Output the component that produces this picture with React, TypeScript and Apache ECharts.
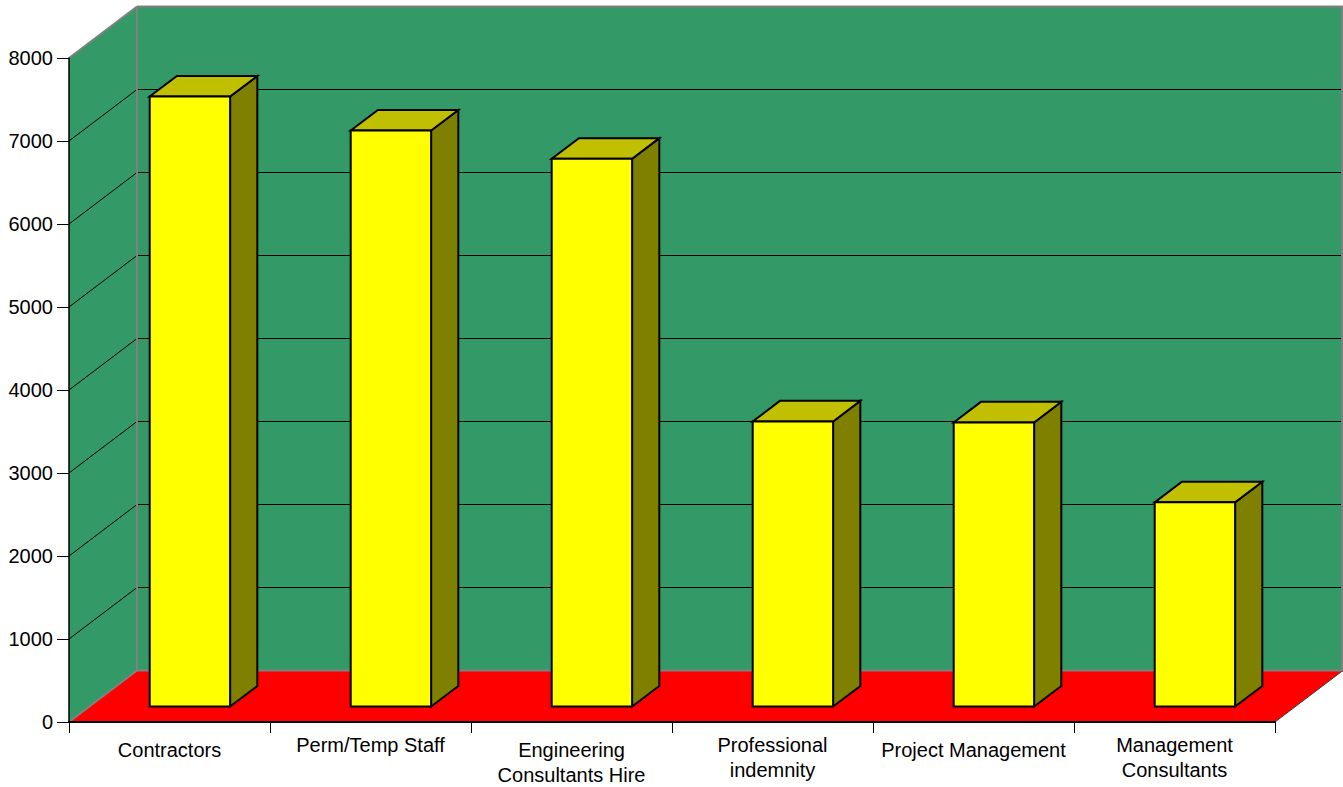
import React, { useEffect, useRef } from "react";
import * as echarts from "echarts";

const categories = [
  "Contractors",
  "Perm/Temp Staff",
  "Engineering\nConsultants Hire",
  "Professional\nindemnity",
  "Project Management",
  "Management\nConsultants",
];
const values = [7350, 6940, 6600, 3435, 3423, 2460];
const yTicks = [0, 1000, 2000, 3000, 4000, 5000, 6000, 7000, 8000];

const DX = 68;
const DY = -51.5;
const BAR_OFFSET = 0.3;
const BAR_DEPTH = 0.4;
const BAR_WIDTH = 0.4;
const FONT = "'Liberation Sans', Arial, sans-serif";

export default function App() {
  const ref = useRef<HTMLDivElement>(null);
  useEffect(() => {
    document.body.style.margin = "0";
    const chart = echarts.init(ref.current!, null, { renderer: "svg" });
    const yMin = yTicks[0];
    const yMax = yTicks[yTicks.length - 1];
    const inner = yTicks.filter((t) => t > yMin && t < yMax);

    const frameRender = (params: any, api: any) => {
      const cs = params.coordSys;
      const x0 = cs.x, y0 = cs.y, x1 = cs.x + cs.width, y1 = cs.y + cs.height;
      const gray = "#808080";
      const children: any[] = [];
      children.push({
        type: "polygon",
        shape: { points: [[x0 + DX, y0 + DY], [x1 + DX, y0 + DY], [x1 + DX, y1 + DY], [x0 + DX, y1 + DY]] },
        style: { fill: "#339966" },
      });
      children.push({
        type: "polygon",
        shape: { points: [[x0, y0], [x0 + DX, y0 + DY], [x0 + DX, y1 + DY], [x0, y1]] },
        style: { fill: "#339966" },
      });
      children.push({
        type: "polygon",
        shape: { points: [[x0, y1], [x0 + DX, y1 + DY], [x1 + DX, y1 + DY], [x1, y1]] },
        style: { fill: "#FF0000" },
      });
      inner.forEach((t) => {
        const yv = api.coord([0, t])[1];
        children.push({
          type: "line",
          shape: { x1: x0, y1: yv, x2: x0 + DX, y2: yv + DY },
          style: { stroke: "#000", lineWidth: 1 },
        });
        children.push({
          type: "line",
          shape: { x1: x0 + DX, y1: yv + DY, x2: x1 + DX, y2: yv + DY },
          style: { stroke: "#000", lineWidth: 1 },
        });
      });
      const grayLines = [
        [x0, y0, x0 + DX, y0 + DY],
        [x0 + DX, y0 + DY, x1 + DX, y0 + DY],
        [x0 + DX, y0 + DY, x0 + DX, y1 + DY],
        [x1 + DX - 1, y0 + DY, x1 + DX - 1, y1 + DY],
        [x0 + DX, y1 + DY, x1 + DX, y1 + DY],
        [x0, y1, x0 + DX, y1 + DY],
      ];
      grayLines.forEach((l) => {
        children.push({
          type: "line",
          shape: { x1: l[0], y1: l[1], x2: l[2], y2: l[3] },
          style: { stroke: gray, lineWidth: 2 },
        });
      });
      children.push({
        type: "line",
        shape: { x1: x1, y1: y1, x2: x1 + DX, y2: y1 + DY },
        style: { stroke: "#404040", lineWidth: 1 },
      });
      return { type: "group", children };
    };

    const barRender = (params: any, api: any) => {
      const i = api.value(0);
      const v = api.value(1);
      const base = api.coord([i, 0]);
      const top = api.coord([i, v]);
      const band = api.size([1, 0])[0];
      const w = band * BAR_WIDTH;
      const ox = DX * BAR_OFFSET, oy = DY * BAR_OFFSET;
      const bx = DX * BAR_DEPTH, by = DY * BAR_DEPTH;
      const L = base[0] - w / 2 + ox;
      const R = L + w;
      const T = top[1] + oy;
      const B = base[1] + oy;
      const stroke = { stroke: "#000", lineWidth: 2, lineJoin: "miter" };
      return {
        type: "group",
        children: [
          {
            type: "polygon",
            shape: { points: [[R, T], [R + bx, T + by], [R + bx, B + by], [R, B]] },
            style: { fill: "#808000", ...stroke },
          },
          {
            type: "polygon",
            shape: { points: [[L, T], [L + bx, T + by], [R + bx, T + by], [R, T]] },
            style: { fill: "#C0C000", ...stroke },
          },
          {
            type: "polygon",
            shape: { points: [[L, T], [R, T], [R, B], [L, B]] },
            style: { fill: "#FFFF00", ...stroke },
          },
        ],
      };
    };

    chart.setOption({
      animation: false,
      backgroundColor: "#fff",
      textStyle: { fontFamily: FONT },
      grid: { left: 69, right: 68, top: 58, bottom: 65, containLabel: false },
      xAxis: {
        type: "category",
        z: 10,
        data: categories.map((c, i) => ({
          value: c,
          textStyle: { padding: i % 2 === 0 ? [5, 0, 0, 0] : [0, 0, 0, 0] },
        })),
        boundaryGap: true,
        axisLine: { show: true, lineStyle: { color: "#000", width: 2 } },
        axisTick: { show: true, length: 11, alignWithLabel: false, lineStyle: { color: "#000", width: 1 } },
        axisLabel: {
          interval: 0,
          margin: 10,
          fontSize: 20,
          lineHeight: 25,
          color: "#000",
          fontFamily: FONT,
        },
        splitLine: { show: false },
      },
      yAxis: {
        type: "value",
        z: 10,
        min: yMin,
        max: yMax,
        interval: yTicks[1] - yTicks[0],
        axisLine: { show: true, lineStyle: { color: "#000", width: 1.5 } },
        axisTick: { show: true, length: 12, lineStyle: { color: "#000", width: 1 } },
        axisLabel: {
          margin: 16,
          fontSize: 20,
          color: "#000",
          fontFamily: FONT,
          formatter: (v: number) => String(v),
        },
        splitLine: { show: false },
      },
      series: [
        {
          type: "custom",
          z: 1,
          clip: false,
          silent: true,
          renderItem: frameRender,
          data: [[0, 0]],
        },
        {
          type: "custom",
          z: 3,
          clip: false,
          renderItem: barRender,
          data: values.map((v, i) => [i, v]),
        },
      ],
    });
    return () => chart.dispose();
  }, []);
  return <div ref={ref} style={{ width: 1343, height: 787 }} />;
}
